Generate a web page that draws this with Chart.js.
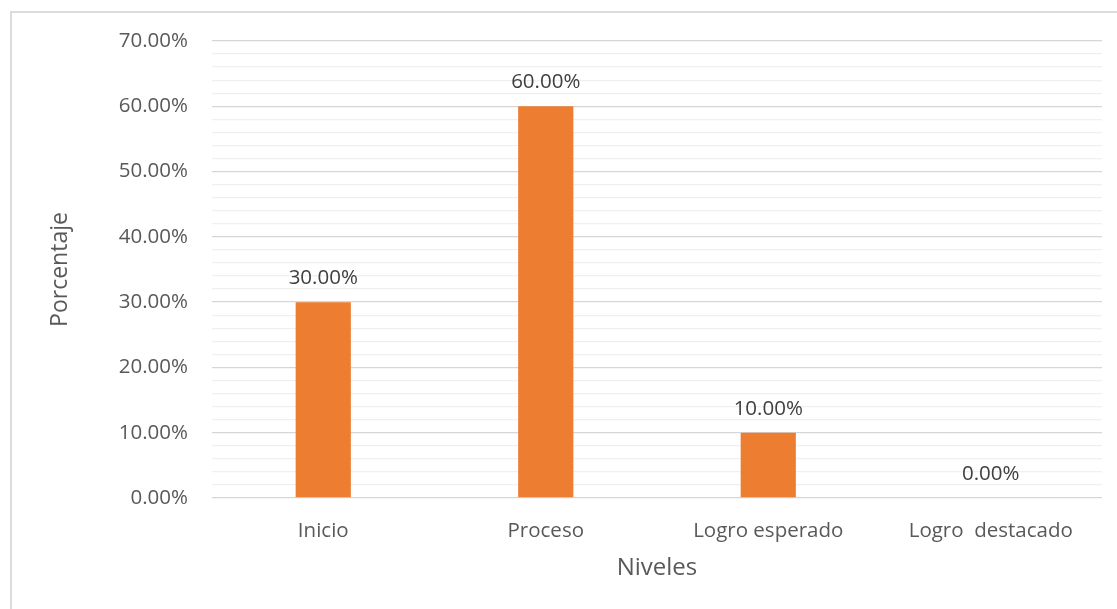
<!DOCTYPE html>
<html>
<head>
<meta charset="utf-8">
<script src="https://cdn.jsdelivr.net/npm/chart.js@4/dist/chart.umd.min.js"></script>
<style>
  html, body { margin: 0; padding: 0; background: #fff; overflow: hidden; }
  #frame { position: absolute; left: 10px; top: 11px; width: 1300px; height: 800px; border-left: 2px solid #dcdcdc; border-top: 2px solid #dcdcdc; }
  #wrap { position: absolute; left: 0; top: 0; width: 1117px; height: 609px; }
</style>
</head>
<body>
<div id="frame"></div>
<div id="wrap"><canvas id="c"></canvas></div>
<script>
const categories = ['Inicio', 'Proceso', 'Logro esperado', 'Logro  destacado'];
const values = [30, 60, 10, 0];
const yTitle = 'Porcentaje';
const xTitle = 'Niveles';

const FONT = "'Open Sans', 'Noto Sans', sans-serif";

const dataLabels = {
  id: 'dataLabels',
  afterDatasetsDraw(chart) {
    const ctx = chart.ctx;
    const meta = chart.getDatasetMeta(0);
    ctx.save();
    ctx.font = '20.5px ' + FONT;
    ctx.fillStyle = '#404040';
    ctx.textAlign = 'center';
    ctx.textBaseline = 'alphabetic';
    meta.data.forEach((el, i) => {
      ctx.fillText(values[i].toFixed(2) + '%', el.x, el.y - 18);
    });
    ctx.restore();
  }
};

new Chart(document.getElementById('c'), {
  type: 'bar',
  data: {
    labels: categories,
    datasets: [{
      data: values,
      backgroundColor: '#ED7D31',
      barPercentage: 0.248,
      categoryPercentage: 1.0
    }]
  },
  options: {
    responsive: true,
    maintainAspectRatio: false,
    animation: false,
    layout: { padding: { top: 41, right: 15, bottom: 26, left: 47 } },
    plugins: { legend: { display: false }, tooltip: { enabled: false } },
    scales: {
      x: {
        grid: { display: false },
        border: { display: false },
        ticks: { color: '#595959', font: { family: FONT, size: 20.5 }, padding: 13, maxRotation: 0, autoSkip: false },
        title: { display: true, text: xTitle, color: '#595959', font: { family: FONT, size: 24 }, padding: { top: 0, bottom: 0 } },
        afterFit(scale) { scale.height = 85; }
      },
      y: {
        min: 0, max: 70,
        grid: {
          drawTicks: false,
          color: (ctx) => (ctx.tick && ctx.tick.value % 10 === 0) ? '#d6d6d6' : '#f0f0f0',
          lineWidth: 1.3
        },
        border: { display: false },
        ticks: {
          stepSize: 2,
          autoSkip: false,
          padding: 24,
          color: '#595959',
          font: { family: FONT, size: 20.5 },
          callback: (v) => (v % 10 === 0) ? v.toFixed(2) + '%' : ''
        },
        title: { display: true, text: yTitle, color: '#595959', font: { family: FONT, size: 23 }, padding: { top: 0, bottom: 0 } },
        afterFit(scale) { scale.width = 165; }
      }
    }
  },
  plugins: [dataLabels]
});
</script>
</body>
</html>
